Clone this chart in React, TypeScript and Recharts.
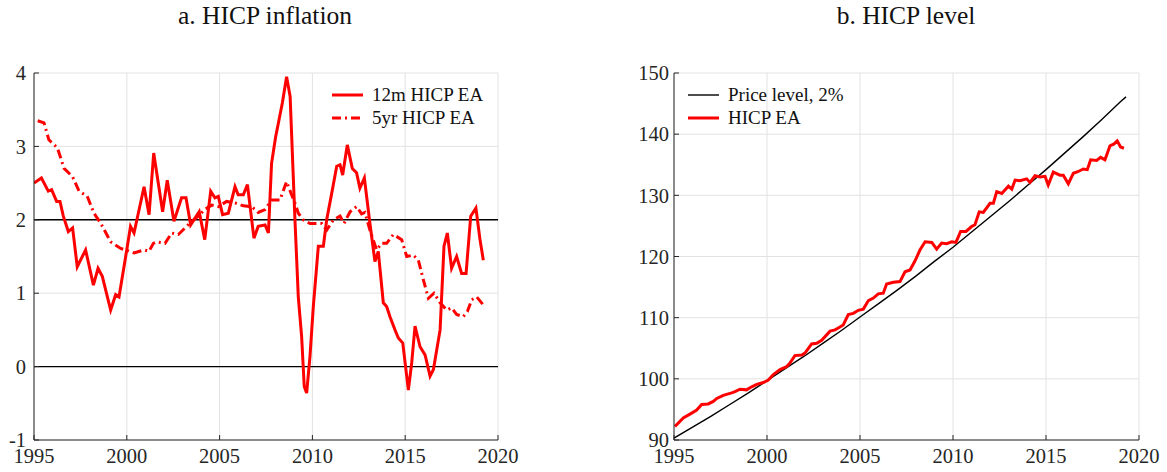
import React from 'react';
import { LineChart, Line, XAxis, YAxis, CartesianGrid, ReferenceLine } from 'recharts';

const FONT = '"Liberation Serif", "Times New Roman", serif';
const AXIS = '#262626';
const GRID = '#e2e2e2';
const RED = '#ff0000';

const yearTicks = [1995, 2000, 2005, 2010, 2015, 2020];
const inflTicks = [-1, 0, 1, 2, 3, 4];
const levelTicks = [90, 100, 110, 120, 130, 140, 150];

// a. 12 month HICP inflation
const infl12mT = [
  1995.0, 1995.4, 1995.77, 1995.95, 1996.22, 1996.4, 1996.58, 1996.85, 1997.08, 1997.33,
  1997.78, 1998.2, 1998.45, 1998.68, 1999.13, 1999.4, 1999.58, 1999.94, 2000.2, 2000.39,
  2000.93, 2001.2, 2001.45, 2001.93, 2002.18, 2002.54, 2002.95, 2003.19, 2003.44, 2003.9,
  2004.2, 2004.52, 2004.75, 2004.93, 2005.16, 2005.47, 2005.83, 2006.0, 2006.28, 2006.5,
  2006.85, 2007.08, 2007.45, 2007.63, 2007.8, 2008.02, 2008.2, 2008.38, 2008.61, 2008.8,
  2009.06, 2009.24, 2009.42, 2009.56, 2009.69, 2009.87, 2010.05, 2010.32, 2010.59, 2010.77,
  2011.04, 2011.31, 2011.49, 2011.63, 2011.88, 2012.15, 2012.38, 2012.56, 2012.8, 2013.1,
  2013.37, 2013.55, 2013.82, 2014.0, 2014.18, 2014.45, 2014.63, 2014.87, 2015.17, 2015.35,
  2015.53, 2015.8, 2016.07, 2016.34, 2016.52, 2016.88, 2017.09, 2017.27, 2017.5, 2017.77,
  2018.04, 2018.28, 2018.53, 2018.81, 2019.03, 2019.21,
];
const infl12mV = [
  2.5, 2.57, 2.39, 2.41, 2.25, 2.25, 2.05, 1.84, 1.89, 1.36,
  1.59, 1.11, 1.34, 1.23, 0.77, 0.98, 0.95, 1.5, 1.91, 1.82,
  2.45, 2.07, 2.91, 2.11, 2.54, 1.98, 2.3, 2.3, 1.93, 2.11,
  1.73, 2.39, 2.3, 2.32, 2.07, 2.09, 2.45, 2.34, 2.34, 2.48,
  1.75, 1.91, 1.93, 1.82, 2.77, 3.13, 3.36, 3.59, 3.95, 3.68,
  2.0, 0.95, 0.41, -0.27, -0.36, 0.14, 0.82, 1.64, 1.64, 2.0,
  2.36, 2.73, 2.75, 2.61, 3.02, 2.7, 2.64, 2.43, 2.57, 1.95,
  1.43, 1.57, 0.87, 0.82, 0.68, 0.5, 0.39, 0.32, -0.32, 0.05,
  0.55, 0.27, 0.16, -0.13, -0.04, 0.5, 1.64, 1.82, 1.34, 1.5,
  1.27, 1.27, 2.05, 2.16, 1.73, 1.45,
];

// a. 5 year HICP inflation
const infl5yT = [
  1995.2, 1995.54, 1995.8, 1996.26, 1996.62, 1997.07, 1997.43, 1997.87, 1998.23, 1998.6,
  1999.13, 1999.67, 2000.39, 2000.93, 2001.2, 2001.43, 2001.6, 2002.06, 2002.42, 2002.78,
  2003.14, 2003.5, 2003.86, 2004.2, 2004.57, 2004.93, 2005.38, 2005.83, 2006.28, 2006.73,
  2007.08, 2007.45, 2007.8, 2008.25, 2008.61, 2008.85, 2009.06, 2009.24, 2009.51, 2009.87,
  2010.32, 2010.5, 2010.77, 2011.13, 2011.49, 2011.7, 2012.03, 2012.38, 2012.65, 2012.83,
  2013.1, 2013.46, 2013.73, 2014.0, 2014.36, 2014.81, 2015.08, 2015.44, 2015.71, 2015.98,
  2016.25, 2016.55, 2016.88, 2017.24, 2017.5, 2017.77, 2018.13, 2018.35, 2018.58, 2018.85,
  2019.21,
];
const infl5yV = [
  3.35, 3.32, 3.09, 2.98, 2.7, 2.59, 2.39, 2.32, 2.09, 1.95,
  1.7, 1.61, 1.55, 1.59, 1.57, 1.68, 1.7, 1.68, 1.82, 1.8,
  1.89, 1.98, 2.05, 2.14, 2.2, 2.18, 2.25, 2.23, 2.19, 2.18,
  2.1, 2.14, 2.27, 2.27, 2.52, 2.36, 2.23, 2.09, 2.0, 1.95,
  1.95, 1.95, 1.86, 2.0, 2.05, 1.95, 2.11, 2.18, 2.08, 2.1,
  1.86, 1.59, 1.68, 1.68, 1.8, 1.73, 1.5, 1.52, 1.45, 1.18,
  0.93, 1.0, 0.87, 0.77, 0.8, 0.71, 0.68, 0.75, 0.91, 0.95,
  0.84,
];

// b. price level growing at 2%
const priceT = [
  1995, 1996, 1997, 1998, 1999, 2000, 2001, 2002, 2003, 2004, 2005, 2006, 2007,
  2008, 2009, 2010, 2011, 2012, 2013, 2014, 2015, 2016, 2017, 2018, 2019, 2019.3,
];
const priceV = [
  90.3, 92.1, 93.9, 95.8, 97.7, 99.7, 101.7, 103.7, 105.8, 107.9, 110.1, 112.3, 114.5,
  116.8, 119.2, 121.5, 124.0, 126.5, 129.0, 131.6, 134.2, 136.9, 139.6, 142.4, 145.3, 146.1,
];

// b. HICP EA level
const hicpT = [
  1995.05, 1995.5, 1995.95, 1996.22, 1996.49, 1996.84, 1997.11, 1997.3, 1997.65, 1998.1,
  1998.28, 1998.55, 1998.9, 1999.18, 1999.45, 1999.8, 2000.07, 2000.34, 2000.7, 2001.06,
  2001.24, 2001.5, 2001.87, 2002.04, 2002.4, 2002.67, 2002.94, 2003.39, 2003.66, 2003.83,
  2004.1, 2004.37, 2004.64, 2004.91, 2005.18, 2005.45, 2005.72, 2005.98, 2006.25, 2006.43,
  2006.79, 2007.15, 2007.42, 2007.69, 2007.96, 2008.23, 2008.5, 2008.86, 2009.12, 2009.39,
  2009.66, 2009.93, 2010.16, 2010.41, 2010.7, 2011.0, 2011.18, 2011.41, 2011.63, 2011.99,
  2012.17, 2012.35, 2012.62, 2012.98, 2013.16, 2013.34, 2013.6, 2013.96, 2014.14, 2014.41,
  2014.68, 2014.95, 2015.12, 2015.39, 2015.75, 2015.93, 2016.2, 2016.47, 2016.74, 2017.0,
  2017.22, 2017.4, 2017.72, 2017.94, 2018.17, 2018.44, 2018.66, 2018.83, 2019.01, 2019.19,
];
const hicpV = [
  92.2, 93.6, 94.4, 94.9, 95.8, 95.9, 96.3, 96.8, 97.3, 97.7,
  97.9, 98.3, 98.2, 98.7, 99.1, 99.4, 99.8, 100.7, 101.5, 102.0,
  102.6, 103.8, 103.9, 104.2, 105.7, 105.8, 106.3, 107.8, 108.0, 108.3,
  108.8, 110.5, 110.7, 111.2, 111.4, 112.8, 113.2, 113.9, 114.0, 115.5,
  115.8, 115.9, 117.5, 117.8, 119.3, 121.1, 122.4, 122.3, 121.2, 122.2,
  122.1, 122.4, 122.3, 124.1, 124.1, 124.9, 125.2, 127.3, 127.2, 128.7,
  128.7, 130.6, 130.3, 131.5, 131.0, 132.5, 132.4, 132.7, 132.1, 133.2,
  133.0, 133.1, 131.7, 133.8, 133.3, 133.3, 131.9, 133.6, 133.9, 134.3,
  134.2, 135.8, 135.7, 136.2, 135.8, 138.1, 138.4, 138.9, 137.9, 137.7,
];

const zip = (t: number[], v: number[]) => t.map((x, i) => ({ t: x, v: v[i] }));

const infl12m = zip(infl12mT, infl12mV);
const infl5y = zip(infl5yT, infl5yV);
const price = zip(priceT, priceV);
const hicp = zip(hicpT, hicpV);

const tickText = { fill: AXIS, fontSize: 20.5, fontFamily: FONT };
const blank = () => '';

const LegendRow = ({ x, y, label, color, width, dash }: any) => (
  <div style={{ position: 'absolute', left: x, top: y - 12, height: 24, display: 'flex', alignItems: 'center' }}>
    <svg width={40} height={24}>
      <line x1={0} x2={31} y1={12} y2={12} stroke={color} strokeWidth={width} strokeDasharray={dash} />
    </svg>
    <span style={{ fontSize: 19, fontFamily: FONT, color: '#111', whiteSpace: 'nowrap' }}>{label}</span>
  </div>
);

const Title = ({ cx, text }: { cx: number; text: string }) => (
  <div style={{ position: 'absolute', left: cx - 150, top: 1, width: 300, textAlign: 'center', fontSize: 25.5, fontFamily: FONT, color: '#111', lineHeight: '30px' }}>
    {text}
  </div>
);

export default function App() {
  return (
    <div style={{ position: 'absolute', left: 0, top: 0, width: 1167, height: 472, background: '#fff', overflow: 'hidden' }}>
      <Title cx={265} text="a. HICP inflation" />
      <Title cx={906} text="b. HICP level" />

      <div style={{ position: 'absolute', left: 0, top: 0 }}>
        <LineChart width={520} height={472} margin={{ top: 73, right: 22, bottom: 0, left: 0 }}>
          <CartesianGrid stroke={GRID} />
          <XAxis dataKey="t" type="number" domain={[1995, 2020]} ticks={yearTicks} interval={0} allowDataOverflow
            height={32} tickSize={-5} tickMargin={13} stroke={AXIS} tick={tickText} />
          <XAxis xAxisId="top" orientation="top" type="number" domain={[1995, 2020]} ticks={yearTicks} interval={0}
            height={0} tickSize={-5} stroke={AXIS} tickFormatter={blank} />
          <YAxis type="number" domain={[-1, 4]} ticks={inflTicks} interval={0} allowDataOverflow
            width={34} tickSize={-5} tickMargin={13} stroke={AXIS} tick={tickText} />
          <YAxis yAxisId="r" orientation="right" type="number" domain={[-1, 4]} ticks={inflTicks} interval={0}
            width={0} tickSize={-5} stroke={AXIS} tickFormatter={blank} />
          <ReferenceLine y={2} stroke="#000" strokeWidth={1.4} />
          <ReferenceLine y={0} stroke="#000" strokeWidth={1.4} />
          <Line data={infl12m} dataKey="v" type="linear" stroke={RED} strokeWidth={3} dot={false} isAnimationActive={false} />
          <Line data={infl5y} dataKey="v" type="linear" stroke={RED} strokeWidth={3} strokeDasharray="9 4 2 4" dot={false} isAnimationActive={false} />
        </LineChart>
      </div>
      <LegendRow x={332} y={95} label="12m HICP EA" color={RED} width={3} />
      <LegendRow x={332} y={118} label="5yr HICP EA" color={RED} width={3} dash="9 4 2 4" />

      <div style={{ position: 'absolute', left: 620, top: 0 }}>
        <LineChart width={547} height={472} margin={{ top: 73, right: 28, bottom: 0, left: 0 }}>
          <CartesianGrid stroke={GRID} />
          <XAxis dataKey="t" type="number" domain={[1995, 2020]} ticks={yearTicks} interval={0} allowDataOverflow
            height={32} tickSize={-5} tickMargin={13} stroke={AXIS} tick={tickText} />
          <XAxis xAxisId="top" orientation="top" type="number" domain={[1995, 2020]} ticks={yearTicks} interval={0}
            height={0} tickSize={-5} stroke={AXIS} tickFormatter={blank} />
          <YAxis type="number" domain={[90, 150]} ticks={levelTicks} interval={0} allowDataOverflow
            width={54} tickSize={-5} tickMargin={10} stroke={AXIS} tick={tickText} />
          <YAxis yAxisId="r" orientation="right" type="number" domain={[90, 150]} ticks={levelTicks} interval={0}
            width={0} tickSize={-5} stroke={AXIS} tickFormatter={blank} />
          <Line data={price} dataKey="v" type="linear" stroke="#000" strokeWidth={1.4} dot={false} isAnimationActive={false} />
          <Line data={hicp} dataKey="v" type="linear" stroke={RED} strokeWidth={3} dot={false} isAnimationActive={false} />
        </LineChart>
      </div>
      <LegendRow x={688} y={95} label="Price level, 2%" color="#000" width={1.4} />
      <LegendRow x={688} y={118} label="HICP EA" color={RED} width={3} />
    </div>
  );
}
